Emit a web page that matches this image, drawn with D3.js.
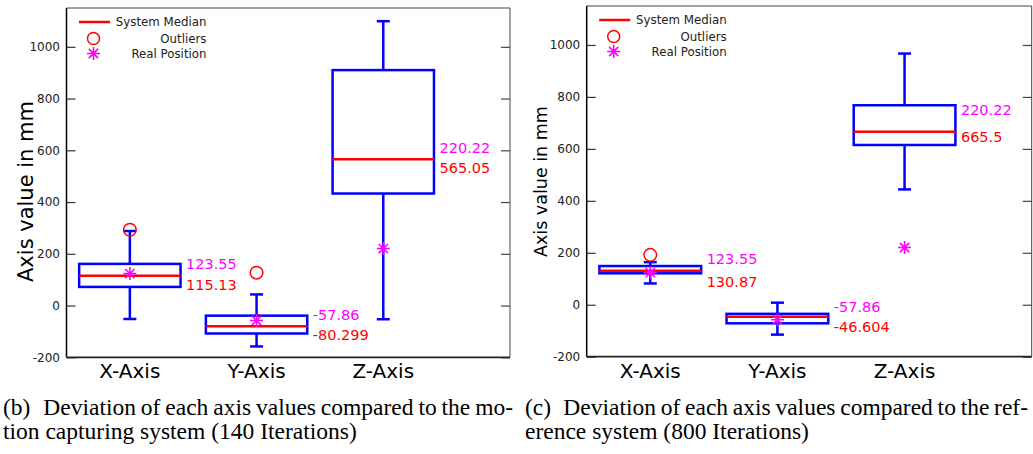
<!DOCTYPE html>
<html>
<head>
<meta charset="utf-8">
<script src="https://cdn.jsdelivr.net/npm/d3@7"></script>
<style>
  body { margin: 0; background: #fff; }
  svg { display: block; }
</style>
</head>
<body>
<svg id="fig" width="1033" height="454"></svg>
<script>
// ---- data ----
const categories = ["X-Axis", "Y-Axis", "Z-Axis"];
const yTickValues = [-200, 0, 200, 400, 600, 800, 1000];
const legendLabels = ["System Median", "Outliers", "Real Position"];
const yTitle = "Axis value in mm";

// (b) motion capturing system, 140 iterations
const bLowerWhisker = [-52, -158, -53];
const bLowerQuartile = [72, -108, 433];
const bMedian = [115.13, -80.299, 565.05];
const bUpperQuartile = [161, -39, 910];
const bUpperWhisker = [288, 43, 1099];
const bOutliers = [[293], [127], []];
const bRealPosition = [123.55, -57.86, 220.22];

// (c) reference system, 800 iterations
const cLowerWhisker = [82, -115, 444];
const cLowerQuartile = [121, -71.5, 615];
const cMedian = [130.87, -46.604, 665.5];
const cUpperQuartile = [149, -35, 768];
const cUpperWhisker = [164, 8, 967];
const cOutliers = [[192], [], []];
const cRealPosition = [123.55, -57.86, 220.22];

const captionB = ["(b)", "Deviation of each axis values compared to the mo-", "tion capturing system (140 Iterations)"];
const captionC = ["(c)", "Deviation of each axis values compared to the ref-", "erence system (800 Iterations)"];

// ---- layout ----
const panels = [
  {
    lo: bLowerWhisker, q1: bLowerQuartile, med: bMedian, q3: bUpperQuartile, hi: bUpperWhisker,
    outliers: bOutliers, real: bRealPosition, caption: captionB,
    left: 66.5, top: 8, right: 510, bottom: 357.3,
    titleSize: 21, titleX: 33, titleY: 282,
    realDy: [-6.5, -6.5, -6.5], medDy: [14.5, 14, 13.5],
    capX: 3, capTextX: 43.3, capEnd: 513
  },
  {
    lo: cLowerWhisker, q1: cLowerQuartile, med: cMedian, q3: cUpperQuartile, hi: cUpperWhisker,
    outliers: cOutliers, real: cRealPosition, caption: captionC,
    left: 586.7, top: 6, right: 1031.7, bottom: 356.7,
    titleSize: 17.5, titleX: 546.7, titleY: 257,
    realDy: [-7, -5, -17], medDy: [16, 15, 10],
    capX: 525, capTextX: 563.3, capEnd: 1028
  }
];

const BLUE = "#0000ff", RED = "#ff0000", MAGENTA = "#ff00ff";
const SANS = "DejaVu Sans, sans-serif";
const SERIF = "Liberation Serif, Times New Roman, serif";

const svg = d3.select("#fig");

function starPath(cx, cy, r) {
  const d = r * 0.7071;
  return `M${cx - r},${cy}H${cx + r}M${cx},${cy - r}V${cy + r}` +
         `M${cx - d},${cy - d}L${cx + d},${cy + d}M${cx - d},${cy + d}L${cx + d},${cy - d}`;
}

panels.forEach(p => {
  const g = svg.append("g");
  const x = d3.scaleLinear().domain([0.5, 4]).range([p.left, p.right]);
  const y = d3.scaleLinear().domain([-200, 1150]).range([p.bottom, p.top]);
  const half = x(1.4) - x(1);
  const capHalf = 6.5;

  // frame
  g.append("line").attr("x1", p.left).attr("x2", p.right).attr("y1", p.top).attr("y2", p.top)
    .attr("stroke", "#444").attr("stroke-width", 1);
  g.append("line").attr("x1", p.right).attr("x2", p.right).attr("y1", p.top).attr("y2", p.bottom)
    .attr("stroke", "#444").attr("stroke-width", 1);

  // left axis with inward ticks
  const axL = g.append("g").attr("transform", `translate(${p.left},0)`)
    .call(d3.axisLeft(y).tickValues(yTickValues).tickSize(-9).tickPadding(6.5)
      .tickFormat(d => String(d)));
  axL.select(".domain").remove();
  axL.selectAll(".tick line").attr("stroke", "#333").attr("stroke-width", 1.2);
  axL.selectAll(".tick text").attr("font-family", SANS).attr("font-size", 12).attr("fill", "#222");

  // right axis, ticks only
  const axR = g.append("g").attr("transform", `translate(${p.right},0)`)
    .call(d3.axisRight(y).tickValues(yTickValues).tickSize(-9).tickFormat(""));
  axR.select(".domain").remove();
  axR.selectAll(".tick line").attr("stroke", "#444").attr("stroke-width", 1.2);

  g.append("line").attr("x1", p.left).attr("x2", p.left).attr("y1", p.top).attr("y2", p.bottom)
    .attr("stroke", "#000").attr("stroke-width", 1.5);
  g.append("line").attr("x1", p.left).attr("x2", p.right).attr("y1", p.bottom).attr("y2", p.bottom)
    .attr("stroke", "#222").attr("stroke-width", 1.8);

  // y title
  g.append("text").attr("transform", `translate(${p.titleX},${p.titleY}) rotate(-90)`)
    .attr("font-family", SANS).attr("font-size", p.titleSize).attr("fill", "#000")
    .text(yTitle);

  // category labels
  categories.forEach((c, i) => {
    g.append("text").attr("x", x(i + 1)).attr("y", 378).attr("text-anchor", "middle")
      .attr("font-family", SANS).attr("font-size", 20).attr("fill", "#000").text(c);
  });

  // boxes
  categories.forEach((c, i) => {
    const cx = x(i + 1);
    const bx = g.append("g");
    bx.append("line").attr("x1", cx).attr("x2", cx).attr("y1", y(p.hi[i])).attr("y2", y(p.q3[i]))
      .attr("stroke", BLUE).attr("stroke-width", 2.5);
    bx.append("line").attr("x1", cx).attr("x2", cx).attr("y1", y(p.q1[i])).attr("y2", y(p.lo[i]))
      .attr("stroke", BLUE).attr("stroke-width", 2.5);
    [p.hi[i], p.lo[i]].forEach(v => {
      bx.append("line").attr("x1", cx - capHalf).attr("x2", cx + capHalf).attr("y1", y(v)).attr("y2", y(v))
        .attr("stroke", BLUE).attr("stroke-width", 2.5);
    });
    bx.append("rect").attr("x", cx - half).attr("width", 2 * half)
      .attr("y", y(p.q3[i])).attr("height", y(p.q1[i]) - y(p.q3[i]))
      .attr("fill", "none").attr("stroke", BLUE).attr("stroke-width", 2.5);
    bx.append("line").attr("x1", cx - half).attr("x2", cx + half)
      .attr("y1", y(p.med[i])).attr("y2", y(p.med[i]))
      .attr("stroke", RED).attr("stroke-width", 2.5);
    p.outliers[i].forEach(v => {
      bx.append("circle").attr("cx", cx).attr("cy", y(v)).attr("r", 6.3)
        .attr("fill", "none").attr("stroke", RED).attr("stroke-width", 1.5);
    });
    bx.append("path").attr("d", starPath(cx, y(p.real[i]), 6.5))
      .attr("stroke", MAGENTA).attr("stroke-width", 1.6).attr("fill", "none");

    // value labels
    const lx = cx + half + 5.5;
    bx.append("text").attr("x", lx).attr("y", y(p.med[i]) + p.realDy[i])
      .attr("font-family", SANS).attr("font-size", 14.5).attr("fill", MAGENTA)
      .text(String(p.real[i]));
    bx.append("text").attr("x", lx).attr("y", y(p.med[i]) + p.medDy[i])
      .attr("font-family", SANS).attr("font-size", 14.5).attr("fill", RED)
      .text(String(p.med[i]));
  });

  // legend
  const lg = g.append("g");
  const rows = [14, 30.5, 45.5].map(d => p.top + d);
  const mx = p.left + 27;
  lg.append("line").attr("x1", p.left + 12.5).attr("x2", p.left + 43.5)
    .attr("y1", rows[0]).attr("y2", rows[0]).attr("stroke", RED).attr("stroke-width", 2.5);
  lg.append("circle").attr("cx", mx).attr("cy", rows[1]).attr("r", 6)
    .attr("fill", "none").attr("stroke", RED).attr("stroke-width", 1.5);
  lg.append("path").attr("d", starPath(mx, rows[2], 6.5))
    .attr("stroke", MAGENTA).attr("stroke-width", 1.6).attr("fill", "none");
  legendLabels.forEach((t, i) => {
    lg.append("text").attr("x", p.left + 140).attr("y", rows[i]).attr("dy", "0.36em")
      .attr("text-anchor", "end").attr("font-family", SANS).attr("font-size", 11.8)
      .attr("fill", "#222").text(t);
  });

  // caption: one text block, first line justified to the column width
  const cap = svg.append("text").attr("font-family", SERIF).attr("font-size", 23.5).attr("fill", "#000");
  cap.append("tspan").attr("x", p.capX).attr("y", 415).text(p.caption[0]);
  const line1 = cap.append("tspan").attr("x", p.capTextX).attr("y", 415).text(p.caption[1]);
  const natural = line1.node().getComputedTextLength();
  const spaces = (p.caption[1].match(/ /g) || []).length;
  const target = p.capEnd - p.capTextX;
  if (spaces > 0) line1.attr("word-spacing", (target - natural) / spaces);
  cap.append("tspan").attr("x", p.capX).attr("y", 438.5).text(p.caption[2]);
});
</script>
</body>
</html>
